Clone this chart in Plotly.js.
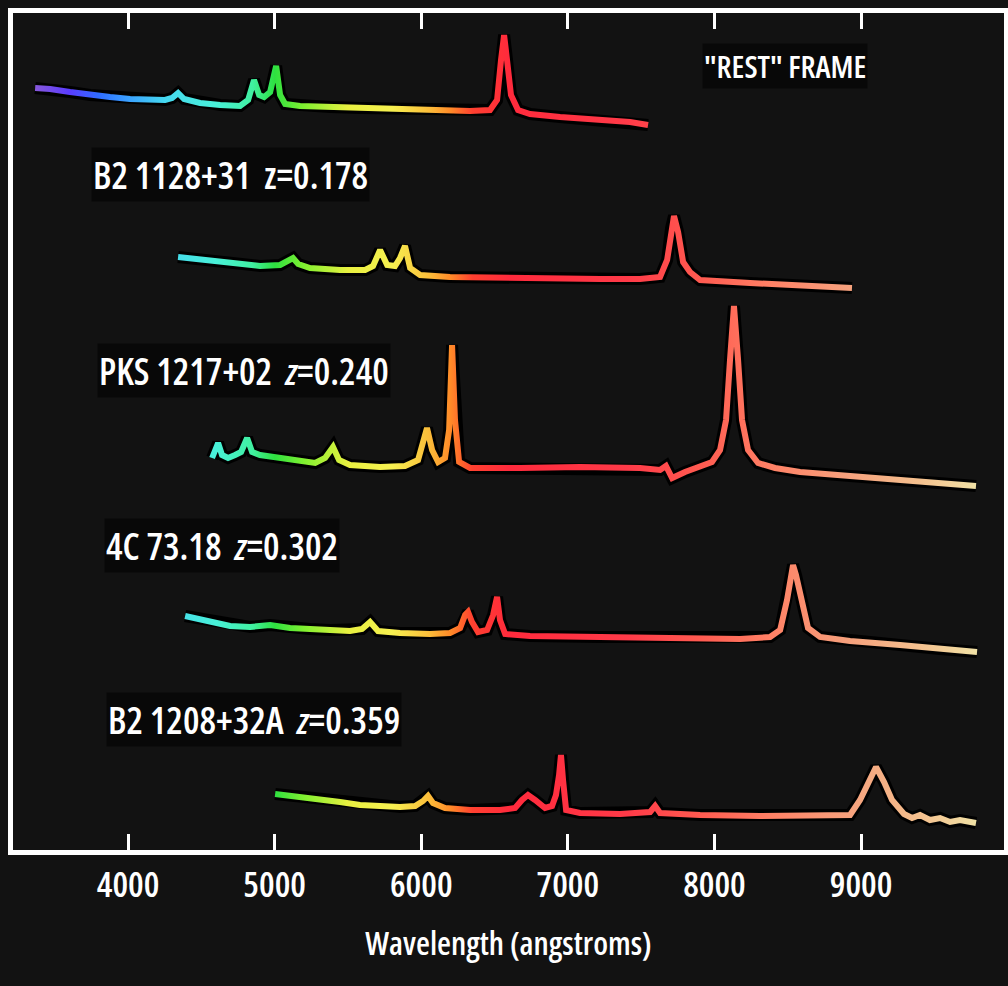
<!DOCTYPE html>
<html>
<head>
<meta charset="utf-8">
<script src="https://cdn.plot.ly/plotly-3.0.1.min.js"></script>
<style>
  html, body { margin: 0; padding: 0; background: #121212; }
  #chart { width: 1008px; height: 986px; }
  text { font-stretch: 75%; }
</style>
</head>
<body>
<div id="chart"></div>
<script>
// ---------- DATA (observed wavelength in angstroms, relative flux + stacking offset) ----------
const restWl = [3366,3468,3604,3741,3877,4014,4150,4252,4300,4341,4382,4491,4628,4764,4819,4859,4894,4928,4969,5010,5037,5071,5173,5378,5582,5855,6128,6333,6469,6517,6544,6565,6585,6612,6660,6742,6947,7220,7424,7547];
const restFlux = [76.2,76.1,75.8,75.5,75.3,75.1,75.0,75.0,75.2,75.7,75.1,74.7,74.5,74.4,75.0,77.0,75.5,75.3,75.8,78.4,75.5,74.6,74.4,74.3,74.2,74.1,74.0,73.9,74.0,75.0,79.0,81.5,79.0,75.5,74.0,73.6,73.3,73.0,72.8,72.5];

const b2_1128Wl = [4341,4457,4593,4764,4900,5037,5085,5125,5160,5241,5446,5617,5671,5719,5767,5821,5855,5889,5924,5992,6196,6537,6878,7220,7492,7629,7677,7704,7724,7752,7786,7833,7902,8243,8584,8938];
const b2_1128Flux = [59.3,59.1,58.8,58.6,58.4,58.5,58.8,59.2,58.6,58.2,58.0,58.0,58.4,60.0,58.5,58.4,59.2,60.4,58.2,57.5,57.3,57.2,57.1,57.1,57.1,57.3,59.0,62.2,63.4,61.8,58.8,57.8,57.0,56.7,56.5,56.2];

const pks1217Wl = [4573,4593,4614,4641,4682,4730,4771,4812,4846,4900,5003,5139,5276,5344,5398,5439,5514,5719,5889,5978,6012,6039,6074,6115,6162,6190,6210,6230,6258,6333,6674,7083,7492,7629,7669,7711,7799,7902,7983,8038,8079,8106,8133,8161,8188,8229,8297,8413,8584,8925,9266,9539,9784];
const pks1217Flux = [39.2,40.0,40.7,39.5,39.2,39.5,39.8,41.2,39.8,39.5,39.3,39.0,38.7,39.2,40.3,39.0,38.5,38.3,38.4,39.0,41.0,42.2,40.0,38.8,39.2,42.0,50.5,43.0,38.8,38.2,38.2,38.3,38.2,38.0,38.4,37.2,37.8,38.3,38.8,40.0,43.0,49.0,54.4,49.0,43.0,40.0,38.7,38.2,37.8,37.4,37.0,36.6,36.4];

const c4_7318Wl = [4389,4491,4593,4696,4832,4969,5105,5241,5378,5514,5596,5651,5705,5855,6060,6196,6265,6299,6319,6346,6387,6449,6490,6517,6537,6572,6742,7220,7765,8175,8379,8448,8495,8523,8536,8556,8591,8638,8720,8925,9266,9539,9791];
const c4_7318Flux = [23.4,23.1,22.8,22.4,22.3,22.5,22.2,22.1,22.0,21.9,22.1,22.8,21.9,21.7,21.6,21.7,22.2,23.5,23.8,22.8,21.8,22.0,23.5,25.3,23.0,21.6,21.4,21.3,21.2,21.1,21.3,22.0,25.0,27.5,28.5,27.5,25.0,22.2,21.3,20.9,20.5,20.1,19.8];

const b2_1208Wl = [5003,5071,5173,5310,5446,5582,5719,5855,5958,6012,6046,6080,6162,6333,6537,6640,6687,6728,6776,6844,6892,6919,6940,6953,6967,6988,7083,7356,7561,7595,7629,7902,8311,8720,8925,8993,9047,9102,9157,9211,9293,9348,9402,9470,9539,9607,9675,9784];
const b2_1208Flux = [5.6,5.5,5.2,5.0,4.8,4.5,4.4,4.3,4.4,4.9,5.4,4.7,4.2,4.0,4.0,4.2,5.0,5.5,5.0,4.2,4.4,5.5,7.5,9.5,7.0,4.0,3.7,3.6,3.8,4.4,3.7,3.5,3.4,3.4,3.5,5.0,6.8,8.3,6.8,5.0,3.6,3.2,3.5,3.0,3.2,2.8,3.0,2.7];

const labelTexts = ['B2 1128+31\u00a0\u00a0z=0.178', 'PKS 1217+02\u00a0\u00a0<i>z</i>=0.240', '4C 73.18\u00a0\u00a0<i>z</i>=0.302', 'B2 1208+32A\u00a0\u00a0<i>z</i>=0.359', '"REST" FRAME'];
const labelWl = [4696, 4791, 4641, 4859, 8481];
const labelFlux = [67.6, 48.0, 30.5, 13.1, 78.4];

const tickVals = [4000, 5000, 6000, 7000, 8000, 9000];
const tickText = ['4000', '5000', '6000', '7000', '8000', '9000'];

// colour of the line as a function of observed wavelength
const colorWl  = [3350, 3600, 3800, 4000, 4250, 4600, 4850, 5000, 5200, 5500, 5800, 6050, 6200, 6350, 6600, 7400, 7900, 8400, 8900, 9400, 9800];
const colorHex = ['#8a5ad8','#5a3cff','#2f6cff','#3aa0ff','#45d8f0','#48f0d8','#40f0a0','#2ee040','#80f030','#e8f040','#f6f050','#fbbe3a','#ff8a28','#ff4030','#ff2a3c','#ff3a48','#ff5a50','#ff8266','#f6a07c','#f4c08e','#f0e2a6'];

// ---------- CHART ----------
const spectra = [
  [restWl, restFlux], [b2_1128Wl, b2_1128Flux], [pks1217Wl, pks1217Flux],
  [c4_7318Wl, c4_7318Flux], [b2_1208Wl, b2_1208Flux]
];
const FONT = "'Open Sans', sans-serif";

const traces = [];
spectra.forEach(([wl, fl]) => {
  traces.push({x: wl, y: fl, mode: 'lines', type: 'scatter', hoverinfo: 'skip',
               line: {color: '#000000', width: 12}, meta: 'halo'});
});
spectra.forEach(([wl, fl]) => {
  traces.push({x: wl, y: fl, mode: 'lines', type: 'scatter', hoverinfo: 'skip',
               line: {color: '#ff4040', width: 6}, meta: 'spectrum'});
});

const annotations = labelTexts.map((t, i) => ({
  x: labelWl[i], y: labelFlux[i], xref: 'x', yref: 'y', text: t, showarrow: false,
  xanchor: 'center', yanchor: 'middle',
  font: {family: FONT, size: i === 4 ? 31 : 37, weight: 600, color: '#ffffff'},
  bgcolor: 'rgba(0,0,0,0.55)'
}));

const layout = {
  width: 1008, height: 986,
  paper_bgcolor: '#121212', plot_bgcolor: '#121212',
  margin: {l: 13, r: 4, t: 13, b: 136},
  showlegend: false,
  xaxis: {
    range: [3215, 9975], tickvals: tickVals, ticktext: tickText,
    ticks: 'inside', ticklen: 16, tickwidth: 3, tickcolor: '#ffffff',
    showline: true, linewidth: 5, linecolor: '#ffffff', mirror: 'allticks',
    showgrid: false, zeroline: false, ticklabelstandoff: 0,
    tickfont: {family: FONT, size: 35, weight: 600, color: '#ffffff'},
    title: {text: 'Wavelength (angstroms)', standoff: 28,
            font: {family: FONT, size: 32, weight: 600, color: '#ffffff'}}
  },
  yaxis: {
    range: [0, 83.7], showline: true, linewidth: 5, linecolor: '#ffffff', mirror: true,
    showticklabels: false, ticks: '', showgrid: false, zeroline: false
  },
  annotations: annotations
};

function applyGradient(gd) {
  const NS = 'http://www.w3.org/2000/svg';
  const xa = gd._fullLayout.xaxis;
  const svg = gd.querySelector('.main-svg');
  let defs = svg.querySelector('defs');
  if (!defs) { defs = document.createElementNS(NS, 'defs'); svg.insertBefore(defs, svg.firstChild); }
  const grad = document.createElementNS(NS, 'linearGradient');
  grad.setAttribute('id', 'wlgrad');
  grad.setAttribute('gradientUnits', 'userSpaceOnUse');
  const w0 = colorWl[0], w1 = colorWl[colorWl.length - 1];
  grad.setAttribute('x1', xa.l2p(w0)); grad.setAttribute('x2', xa.l2p(w1));
  grad.setAttribute('y1', 0); grad.setAttribute('y2', 0);
  colorWl.forEach((w, i) => {
    const s = document.createElementNS(NS, 'stop');
    s.setAttribute('offset', (w - w0) / (w1 - w0));
    s.setAttribute('stop-color', colorHex[i]);
    grad.appendChild(s);
  });
  defs.appendChild(grad);
  gd.querySelectorAll('.scatterlayer .trace').forEach((g, i) => {
    if (gd.data[i] && gd.data[i].meta === 'spectrum') {
      g.querySelectorAll('path.js-line').forEach(p => { p.style.stroke = 'url(#wlgrad)'; });
    }
  });
}

Plotly.newPlot('chart', traces, layout, {staticPlot: true, displayModeBar: false})
  .then(applyGradient);
</script>
</body>
</html>
